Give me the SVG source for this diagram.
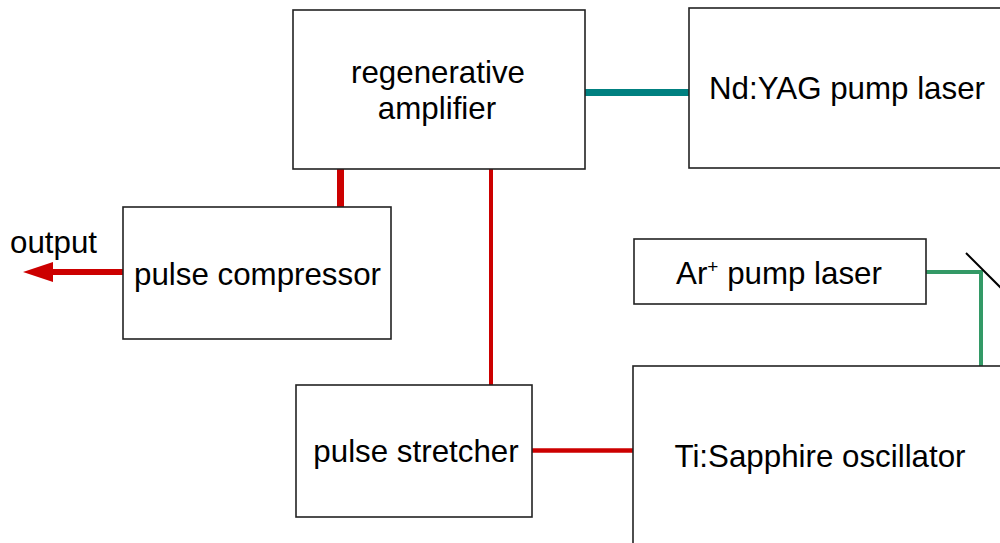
<svg xmlns="http://www.w3.org/2000/svg" width="1000" height="543" viewBox="0 0 1000 543">
<style>
.box{fill:#ffffff;stroke:#222222;stroke-width:1.6}
.t{font-family:"Liberation Sans",Arial,sans-serif;font-size:31.3px;fill:#000000;text-anchor:middle}
.red{stroke:#cc0000;fill:none}
</style>
<rect width="1000" height="543" fill="#ffffff"/>
<g id="connectors">
<line x1="585" y1="92.5" x2="689" y2="92.5" stroke="#008080" stroke-width="7"/>
<line class="red" x1="340.5" y1="169" x2="340.5" y2="207" stroke-width="7"/>
<line class="red" x1="491" y1="169" x2="491" y2="385" stroke-width="4"/>
<line class="red" x1="532" y1="450.5" x2="634" y2="450.5" stroke-width="4.5"/>
<line class="red" x1="123" y1="272" x2="50" y2="272" stroke-width="6"/>
<polygon points="23,272 53,262 53,282" fill="#cc0000"/>
<path d="M926,272 H981 V366" fill="none" stroke="#339966" stroke-width="4"/>
<line x1="966" y1="253" x2="1002" y2="289" stroke="#000000" stroke-width="2"/>
<text class="t" x="10" y="253" style="text-anchor:start">output</text>
</g>
<g id="regen">
<rect class="box" x="293" y="10" width="292" height="159"/>
<text class="t" x="438" y="83">regenerative</text>
<text class="t" x="437" y="119">amplifier</text>
</g>
<g id="ndyag">
<rect class="box" x="689" y="8" width="340" height="160"/>
<text class="t" x="847" y="99">Nd:YAG pump laser</text>
</g>
<g id="compressor">
<rect class="box" x="123" y="207" width="268" height="132"/>
<text class="t" x="257.5" y="285">pulse compressor</text>
</g>
<g id="arpump">
<rect class="box" x="634" y="239" width="292" height="65"/>
<text class="t" x="779" y="284">Ar<tspan font-size="19" dy="-11">+</tspan><tspan dy="11"> pump laser</tspan></text>
</g>
<g id="stretcher">
<rect class="box" x="296" y="385" width="236" height="132"/>
<text class="t" x="416" y="462">pulse stretcher</text>
</g>
<g id="tisapph">
<rect class="box" x="633" y="366" width="400" height="200"/>
<text class="t" x="820" y="467">Ti:Sapphire oscillator</text>
</g>
</svg>
